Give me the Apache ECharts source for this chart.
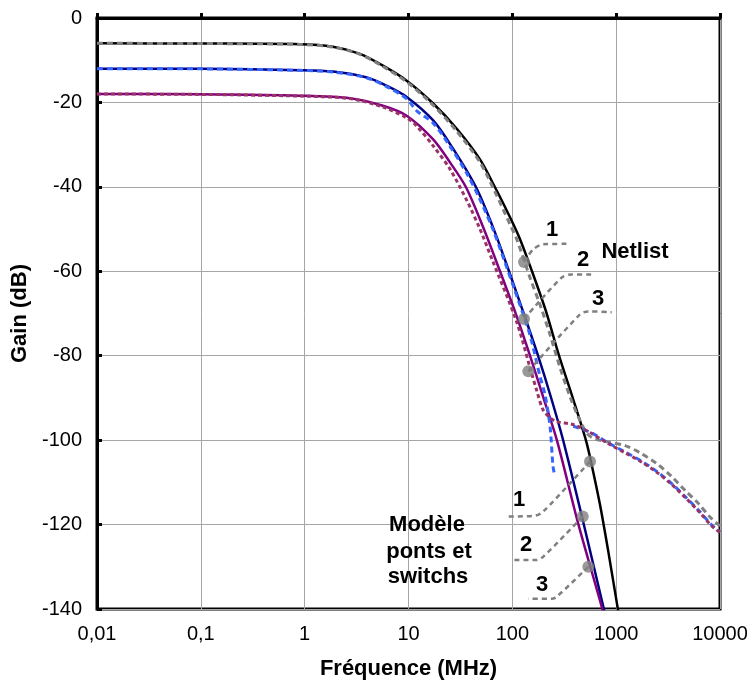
<!DOCTYPE html>
<html>
<head>
<meta charset="utf-8">
<script src="https://cdn.jsdelivr.net/npm/echarts@6/dist/echarts.min.js"></script>
<style>
html,body{margin:0;padding:0;background:#fff;}
#chart{width:747px;height:684px;}
</style>
</head>
<body>
<div id="chart"></div>
<script>
// ---- Data (frequency in MHz, gain in dB) ----
const xTickLabels = ['0,01', '0,1', '1', '10', '100', '1000', '10000'];
const yTickValues = [0, -20, -40, -60, -80, -100, -120, -140];

// Modèle ponts et switchs (solid lines)
const modele1 = [[0.01,-6.0],[0.1,-6.05],[0.9,-6.2],[1.87,-6.8],[3.41,-8.5],[5.68,-11.3],[9.67,-14.9],[17.2,-20.2],[29.3,-26.3],[48.8,-33.5],[68.1,-40.1],[95,-47.2],[118.6,-52.4],[154.7,-60],[211,-69.5],[281.6,-80],[384,-90.2],[512.4,-100.1],[572.4,-105.1],[698.9,-115.3],[834.8,-126],[1030,-139.5],[1089,-142.9]];
const modele2 = [[0.01,-12],[0.1,-12.05],[0.9,-12.35],[1.87,-12.7],[3.98,-14.1],[6.21,-16.1],[9.67,-18.75],[17.2,-24.2],[26.3,-30.6],[44.7,-40.1],[65.2,-49.6],[92.9,-60],[129.6,-70.2],[176.8,-80],[235.8,-89.9],[307.7,-99.9],[469,-118.2],[752,-139.5],[781,-141.4]];
const modele3 = [[0.01,-18],[0.1,-18.08],[0.9,-18.4],[2.73,-19],[5.68,-20.8],[9.67,-23.2],[17.2,-28.7],[25.1,-34.2],[35.8,-40.1],[53.4,-50.1],[76.1,-60],[108.5,-70.2],[148,-80],[201.9,-90.4],[269.3,-100.1],[429.1,-119.6],[726,-139.5],[755,-141.4]];

// Netlist (dashed lines)
const netlist1 = [[0.01,-6],[0.1,-6.05],[0.9,-6.25],[1.87,-6.9],[3.41,-8.6],[5.68,-11.5],[9.67,-15.2],[17.2,-20.6],[29.3,-26.9],[48.8,-34.2],[68.1,-41.2],[95,-48.9],[110.2,-52.4],[148,-61.5],[184.7,-67.9],[230.7,-75],[287.9,-82.8],[359.4,-89.7],[448.6,-95.4],[535.6,-98.7],[625.6,-99.7],[816.5,-100.4],[1217,-101.3],[1697,-103],[2474,-105.6],[3451,-108.7],[4604,-111.9],[6142,-114.9],[8139,-118.4],[10000,-120.3]];
const netlist2 = [[0.01,-12],[0.1,-12.05],[0.9,-12.4],[1.87,-12.8],[3.98,-14.2],[6.21,-16.3],[9.67,-19.2],[12,-22],[17.3,-24.9],[25.1,-30.4],[36.4,-36.8],[48.8,-43],[65.6,-50.3],[102.2,-63.5],[142.6,-73.8],[154.7,-76.9],[184.7,-84.9],[206.3,-89.2],[230.7,-96.7],[246.5,-106.2],[257.6,-108.6],[300,'-'],[386.6,-96.7],[581.5,-98.3],[834.8,-100.6],[1217,-102.8],[1735,-104.9],[2459,-107.4],[3428,-110.3],[4676,-113.5],[6321,-116.8],[8324,-120.1],[10000,-121.7]];
const netlist3 = [[0.01,-18],[0.1,-18.1],[0.9,-18.5],[2.73,-19.1],[5.68,-21.1],[9.67,-23.7],[12,-25.6],[17.3,-30.3],[25.1,-35.8],[36.4,-43.2],[48.8,-50],[63.3,-57],[110.2,-72],[148,-82.8],[172.9,-88.5],[197.5,-92.8],[230.7,-94.7],[267.5,-95.6],[384,-96.3],[560,-98.2],[834.8,-100.8],[1217,-103],[1735,-105.1],[2459,-107.6],[3428,-110.5],[4676,-113.7],[6321,-117],[8324,-120.3],[10000,-121.9]];

// Annotation markers and leader lines (data coordinates)
const netlistMarkers = [[129.6,-57.8],[129.6,-71.3],[142.6,-83.7]];
const modeleMarkers = [[560,-105.05],[476.3,-118.1],[539.3,-130]];
const netlistLead1 = [[129.6,-57.8],[159.2,-54.8],[198.8,-53.6],[334,-53.5]];
const netlistLead2 = [[129.6,-71.3],[298.5,-61.5],[373,-60.75],[602.6,-60.75]];
const netlistLead3 = [[142.6,-83.7],[448.6,-70.2],[539.3,-69.5],[906,-69.7]];
const modeleLead1 = [[560,-105.05],[198.8,-116.9],[165.4,-117.9],[91.5,-118.1]];
const modeleLead2 = [[476.3,-118.1],[198.8,-127.6],[171.3,-128.4],[98.6,-128.4]];
const modeleLead3 = [[539.3,-130],[267.5,-137.1],[239.5,-137.6],[142.6,-137.6]];

const FONT = "'Liberation Sans', Arial, sans-serif";

function solid(data, color) {
  return { type: 'line', data: data, showSymbol: false, smooth: 0.3, lineStyle: { color: color, width: 2.5 }, z: 3, silent: true };
}
function dashed(data, color, dash) {
  return { type: 'line', data: data, showSymbol: false, smooth: 0.3, connectNulls: false, lineStyle: { color: color, width: 3, type: dash }, z: 4, silent: true };
}
function lead(data) {
  return { type: 'line', data: data, showSymbol: false, smooth: 0.3, lineStyle: { color: '#808080', width: 2.5, type: [5, 4] }, z: 5, silent: true };
}

const chart = echarts.init(document.getElementById('chart'), null, { renderer: 'canvas' });
const boldLabel = { fontFamily: FONT, fontWeight: 'bold', fontSize: 22, fill: '#000' };
function txt(x, y, s) {
  return { type: 'text', x: x, y: y, style: Object.assign({ text: s, align: 'center', verticalAlign: 'middle' }, boldLabel), z: 10 };
}

chart.setOption({
  animation: false,
  backgroundColor: '#fff',
  grid: { left: 97, right: 27, top: 18, bottom: 75, containLabel: false, outerBoundsMode: 'none', show: true, borderColor: '#000', borderWidth: 3, backgroundColor: 'transparent' },
  xAxis: {
    type: 'log', logBase: 10, min: 0.01, max: 10000,
    name: 'Fréquence (MHz)', nameLocation: 'middle', nameGap: 49,
    nameTextStyle: { fontFamily: FONT, fontWeight: 'bold', fontSize: 22, color: '#000' },
    axisLine: { lineStyle: { color: '#000', width: 3 } },
    axisTick: { inside: true, length: 5, lineStyle: { color: '#000', width: 3 } },
    minorTick: { show: false },
    splitLine: { show: true, lineStyle: { color: '#a6a6a6', width: 1 } },
    axisLabel: {
      fontFamily: FONT, fontSize: 20, color: '#000', margin: 15, hideOverlap: false,
      formatter: function (v) { const i = Math.round(Math.log10(v)) + 2; return xTickLabels[i] !== undefined ? xTickLabels[i] : ''; }
    }
  },
  yAxis: {
    type: 'value', min: -140, max: 0, interval: 20,
    name: 'Gain (dB)', nameLocation: 'middle', nameGap: 62, nameRotate: 90,
    nameTextStyle: { fontFamily: FONT, fontWeight: 'bold', fontSize: 22, color: '#000' },
    axisLine: { show: true, lineStyle: { color: '#000', width: 3 } },
    axisTick: { show: true, inside: true, length: 5, lineStyle: { color: '#000', width: 3 } },
    splitLine: { show: true, lineStyle: { color: '#a6a6a6', width: 1 } },
    axisLabel: {
      fontFamily: FONT, fontSize: 20, color: '#000', margin: 15,
      formatter: function (v) { return yTickValues.indexOf(v) >= 0 ? String(v) : ''; }
    }
  },
  series: [
    solid(modele1, '#000000'),
    solid(modele2, '#000080'),
    solid(modele3, '#800080'),
    dashed(netlist1, '#808080', [6, 4]),
    dashed(netlist2, '#3366ff', [6, 4]),
    dashed(netlist3, '#993366', [4, 3]),
    lead(netlistLead1), lead(netlistLead2), lead(netlistLead3),
    lead(modeleLead1), lead(modeleLead2), lead(modeleLead3),
    { type: 'scatter', data: netlistMarkers.concat(modeleMarkers), symbol: 'circle', symbolSize: 12, itemStyle: { color: '#808080' }, z: 6, silent: true }
  ],
  graphic: [
    txt(552, 230, '1'), txt(583, 260, '2'), txt(598, 299, '3'), txt(635, 252, 'Netlist'),
    txt(519, 500, '1'), txt(526, 545, '2'), txt(542, 585, '3'),
    txt(427, 525, 'Modèle'), txt(429, 552, 'ponts et'), txt(428, 577, 'switchs')
  ]
});
</script>
</body>
</html>
